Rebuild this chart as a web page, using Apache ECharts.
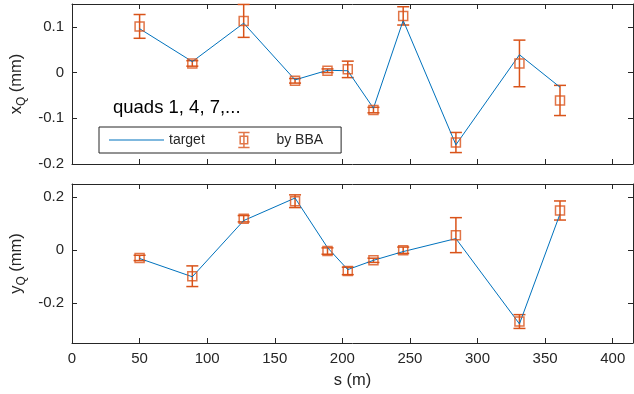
<!DOCTYPE html>
<html>
<head>
<meta charset="utf-8">
<script src="https://cdn.jsdelivr.net/npm/echarts@6/dist/echarts.min.js"></script>
<style>
  html, body { margin: 0; padding: 0; background: #fff; }
  #main { width: 634px; height: 394px; }
</style>
</head>
<body>
<div id="main"></div>
<script>
// quad positions (m)
var sPos = [50, 89, 127, 165, 189, 204, 223, 245, 284, 331, 361];

// horizontal offsets (mm)
var xTarget = [0.096, 0.024, 0.108, -0.016, 0.005, 0.004, -0.078, 0.114, -0.158, 0.039, -0.032];
var xBBA    = [0.101, 0.020, 0.113, -0.018, 0.004, 0.007, -0.082, 0.124, -0.153, 0.020, -0.061];
var xErr    = [0.026, 0.006, 0.036, 0.005, 0.004, 0.018, 0.006, 0.020, 0.022, 0.051, 0.033];

// vertical offsets (mm)
var yTarget = [-0.031, -0.100, 0.112, 0.197, 0.010, -0.073, -0.038, -0.005, 0.044, -0.278, 0.137];
var yBBA    = [-0.029, -0.098, 0.119, 0.185, -0.003, -0.078, -0.038, 0.000, 0.057, -0.269, 0.150];
var yErr    = [0.010, 0.039, 0.012, 0.024, 0.012, 0.014, 0.008, 0.012, 0.066, 0.026, 0.036];

var xTicks = [0, 50, 100, 150, 200, 250, 300, 350, 400];
var xqTicks = [-0.2, -0.1, 0, 0.1];
var yqTicks = [-0.2, 0, 0.2];

var BLUE = '#0072BD', ORANGE = '#D95319', AX = '#262626';
var FONT = 'Liberation Sans';

function pairs(a, b) { return a.map(function (v, i) { return [v, b[i]]; }); }
function bars(a, b, e) { return a.map(function (v, i) { return [v, b[i] - e[i], b[i] + e[i]]; }); }

function errRender(params, api) {
  var lo = api.coord([api.value(0), api.value(1)]);
  var hi = api.coord([api.value(0), api.value(2)]);
  var w = 6;
  var st = { stroke: ORANGE, lineWidth: 1.5, fill: null };
  return {
    type: 'group',
    children: [
      { type: 'line', shape: { x1: lo[0], y1: lo[1], x2: hi[0], y2: hi[1] }, style: st },
      { type: 'line', shape: { x1: lo[0] - w, y1: lo[1], x2: lo[0] + w, y2: lo[1] }, style: st },
      { type: 'line', shape: { x1: hi[0] - w, y1: hi[1], x2: hi[0] + w, y2: hi[1] }, style: st }
    ]
  };
}

function fmt(v) { return String(Math.round(v * 100) / 100); }

var tick = { show: true, inside: true, length: 5, lineStyle: { color: AX } };
var line = { show: true, onZero: false, lineStyle: { color: AX, width: 1 } };
var lab = { color: AX, fontFamily: FONT, fontSize: 15 };

function xAx(grid, pos, showLab) {
  return {
    type: 'value', gridIndex: grid, position: pos, min: 0, max: 415,
    axisLine: line,
    axisTick: Object.assign({ customValues: xTicks }, tick),
    axisLabel: Object.assign({ show: showLab, customValues: xTicks, margin: 8 }, lab),
    splitLine: { show: false },
    name: showLab ? 's (m)' : '', nameLocation: 'middle', nameGap: 29,
    nameTextStyle: { color: AX, fontFamily: FONT, fontSize: 16.5 }
  };
}

function yAx(grid, pos, mn, mx, ticks, name) {
  return {
    type: 'value', gridIndex: grid, position: pos, min: mn, max: mx,
    axisLine: line,
    axisTick: Object.assign({ customValues: ticks }, tick),
    axisLabel: Object.assign({ show: pos === 'left', customValues: ticks, formatter: fmt, margin: 8 }, lab),
    splitLine: { show: false },
    name: name || '', nameLocation: 'middle', nameGap: 44, nameRotate: 90,
    nameTextStyle: {
      color: AX, fontFamily: FONT, fontSize: 16.5,
      rich: { sub: { fontFamily: FONT, fontSize: 12, color: AX, verticalAlign: 'bottom', padding: [9, 0, 0, 0] } }
    }
  };
}

var myChart = echarts.init(document.getElementById('main'));
var option = {
  animation: false,
  backgroundColor: '#fff',
  grid: [
    { left: 72, top: 4, width: 561, height: 160, containLabel: false },
    { left: 72, top: 184, width: 561, height: 159, containLabel: false }
  ],
  xAxis: [
    xAx(0, 'bottom', false), xAx(0, 'top', false),
    xAx(1, 'bottom', true), xAx(1, 'top', false)
  ],
  yAxis: [
    yAx(0, 'left', -0.2, 0.15, xqTicks, 'x{sub|Q} (mm)'), yAx(0, 'right', -0.2, 0.15, xqTicks),
    yAx(1, 'left', -0.35, 0.25, yqTicks, 'y{sub|Q} (mm)'), yAx(1, 'right', -0.35, 0.25, yqTicks)
  ],
  legend: {
    orient: 'horizontal', left: 99, top: 127,
    padding: [3, 18, 3, 10],
    borderColor: AX, borderWidth: 1, backgroundColor: '#fff',
    itemWidth: 55, itemHeight: 15, itemGap: 31,
    textStyle: { color: AX, fontFamily: FONT, fontSize: 14 },
    data: [
      {
        name: 'target', icon: 'path://M0,0H55V1.2H0Z',
        itemStyle: { color: BLUE, borderWidth: 0 }
      },
      {
        name: 'by BBA', icon: 'path://M0,0H12M6,0V16M0,16H12M2,4H10V12H2Z',
        itemStyle: { color: 'none', borderColor: ORANGE, borderWidth: 1.5 }
      }
    ]
  },
  graphic: [
    {
      type: 'text', left: 113, top: 98,
      style: { text: 'quads 1, 4, 7,...', fill: '#000', font: '18.5px "Liberation Sans"' }
    }
  ],
  series: [
    {
      name: 'target', type: 'line', xAxisIndex: 0, yAxisIndex: 0,
      data: pairs(sPos, xTarget), symbol: 'none', lineStyle: { color: BLUE, width: 1 }, itemStyle: { color: BLUE }
    },
    {
      name: 'target', type: 'line', xAxisIndex: 2, yAxisIndex: 2,
      data: pairs(sPos, yTarget), symbol: 'none', lineStyle: { color: BLUE, width: 1 }, itemStyle: { color: BLUE }
    },
    {
      type: 'custom', xAxisIndex: 0, yAxisIndex: 0, renderItem: errRender,
      data: bars(sPos, xBBA, xErr), encode: { x: 0, y: [1, 2] }, z: 3
    },
    {
      type: 'custom', xAxisIndex: 2, yAxisIndex: 2, renderItem: errRender,
      data: bars(sPos, yBBA, yErr), encode: { x: 0, y: [1, 2] }, z: 3
    },
    {
      name: 'by BBA', type: 'scatter', xAxisIndex: 0, yAxisIndex: 0,
      data: pairs(sPos, xBBA), symbol: 'rect', symbolSize: 9, z: 4,
      itemStyle: { color: 'none', borderColor: ORANGE, borderWidth: 1.5 }
    },
    {
      name: 'by BBA', type: 'scatter', xAxisIndex: 2, yAxisIndex: 2,
      data: pairs(sPos, yBBA), symbol: 'rect', symbolSize: 9, z: 4,
      itemStyle: { color: 'none', borderColor: ORANGE, borderWidth: 1.5 }
    }
  ]
};
myChart.setOption(option);
</script>
</body>
</html>
